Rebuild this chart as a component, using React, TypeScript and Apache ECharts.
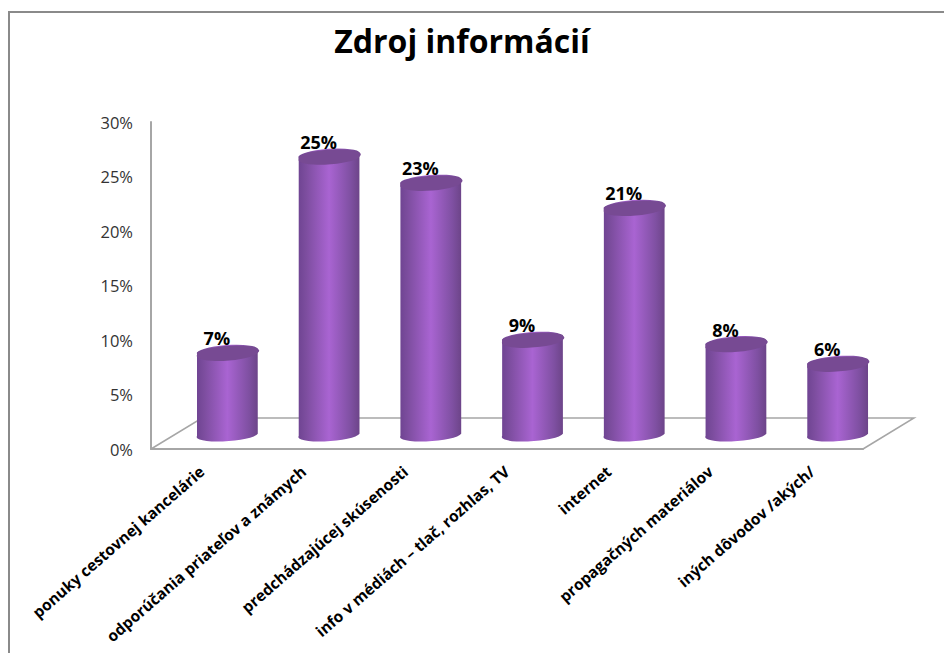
import React, { useEffect, useRef } from "react";
import * as echarts from "echarts";

const categories = [
  "ponuky cestovnej kancelárie",
  "odporúčania priateľov a známych",
  "predchádzajúcej skúsenosti",
  "info v médiách – tlač, rozhlas, TV",
  "internet",
  "propagačných materiálov",
  "iných dôvodov /akých/",
];
const values = [7.4, 25.4, 23.0, 8.6, 20.7, 8.2, 6.4];
const floorIndex = [0];
const titleText = "Zdroj informácií";

const FONT = "'Open Sans', 'Noto Sans', sans-serif";
const DEPTH_X = 51;
const DEPTH_Y = 31;
const RX = 30.5;
const RY = 6.3;
const TILT_DEG = -4;
const TILT = (TILT_DEG * Math.PI) / 180;
const HALF_W = Math.sqrt((RX * Math.cos(TILT)) ** 2 + (RY * Math.sin(TILT)) ** 2);
const HALF_H = Math.sqrt((RX * Math.sin(TILT)) ** 2 + (RY * Math.cos(TILT)) ** 2);

function ellipseEnds(cx: number, cy: number) {
  const dx = RX * Math.cos(TILT);
  const dy = RX * Math.sin(TILT);
  return { lx: cx - dx, ly: cy - dy, rx: cx + dx, ry: cy + dy };
}

function renderCylinder(params: any, api: any) {
  const idx = api.value(0);
  const val = api.value(1);
  const top = api.coord([idx, val]);
  const base = api.coord([idx, 0]);
  const cx = top[0] + DEPTH_X / 2;
  const ty = top[1] - DEPTH_Y / 2;
  const by = base[1] - DEPTH_Y / 2;
  const t = ellipseEnds(cx, ty);
  const b = ellipseEnds(cx, by);
  const arc = (x: number, y: number) => `A ${RX} ${RY} ${TILT_DEG} 0 0 ${x} ${y}`;
  const bodyPath =
    `M ${t.lx} ${t.ly} L ${b.lx} ${b.ly} ${arc(b.rx, b.ry)} L ${t.rx} ${t.ry} ${arc(t.lx, t.ly)} Z`;
  const topPath = `M ${t.lx} ${t.ly} ${arc(t.rx, t.ry)} ${arc(t.lx, t.ly)} Z`;
  return {
    type: "group",
    children: [
      {
        type: "path",
        shape: {
          pathData: bodyPath,
          layout: "cover",
          x: cx - HALF_W,
          y: ty - HALF_H,
          width: 2 * HALF_W,
          height: by - ty + 2 * HALF_H,
        },
        style: {
          fill: new echarts.graphic.LinearGradient(0, 0, 1, 0, [
            { offset: 0, color: "#6f4492" },
            { offset: 0.12, color: "#7c4d9e" },
            { offset: 0.5, color: "#a964d2" },
            { offset: 0.85, color: "#7f50a2" },
            { offset: 1, color: "#6c4488" },
          ]),
        },
      },
      {
        type: "path",
        shape: {
          pathData: topPath,
          layout: "cover",
          x: cx - HALF_W,
          y: ty - HALF_H,
          width: 2 * HALF_W,
          height: 2 * HALF_H,
        },
        style: { fill: "#774a93" },
      },
      {
        type: "text",
        style: {
          text: `${Math.round(val)}%`,
          x: cx - 10.5,
          y: ty - 14.5,
          align: "center",
          verticalAlign: "middle",
          fill: "#000000",
          font: `bold 18px ${FONT}`,
        },
      },
    ],
  };
}

function renderFloor(params: any, api: any) {
  const sys = params.coordSys;
  const left = sys.x;
  const right = sys.x + sys.width;
  const y = sys.y + sys.height;
  return {
    type: "polyline",
    shape: {
      points: [
        [left, y],
        [left + DEPTH_X, y - DEPTH_Y],
        [right + DEPTH_X, y - DEPTH_Y],
        [right, y],
      ],
    },
    style: { stroke: "#a6a6a6", lineWidth: 1.5, fill: "none" },
  };
}

export default function App() {
  const ref = useRef<HTMLDivElement>(null);
  useEffect(() => {
    const chart = echarts.init(ref.current!, null, { renderer: "svg" });
    chart.setOption({
      animation: false,
      backgroundColor: "#ffffff",
      title: {
        text: titleText,
        left: 457,
        top: 19,
        textAlign: "center",
        textStyle: { fontFamily: FONT, fontWeight: "bold", fontSize: 32, color: "#000000" },
      },
      graphic: [
        {
          type: "polyline",
          shape: { points: [[9, 653], [9, 12], [944, 12]] },
          style: { stroke: "#8a8a8a", lineWidth: 2, fill: "none" },
        },
      ],
      grid: { left: 151, top: 122, width: 712, height: 327 },
      xAxis: {
        type: "category",
        data: categories,
        axisLine: { show: true, lineStyle: { color: "#a6a6a6", width: 2 } },
        axisTick: { show: false },
        axisLabel: {
          rotate: 41,
          interval: 0,
          margin: 20,
          fontFamily: FONT,
          fontWeight: "bold",
          fontSize: 15.5,
          color: "#000000",
        },
      },
      yAxis: {
        type: "value",
        min: 0,
        max: 30,
        interval: 5,
        axisLine: { show: true, lineStyle: { color: "#a6a6a6", width: 2 } },
        axisTick: { show: false },
        splitLine: { show: false },
        axisLabel: {
          formatter: "{value}%",
          margin: 18,
          fontFamily: FONT,
          fontSize: 16.5,
          color: "#333333",
        },
      },
      series: [
        {
          type: "custom",
          z: 1,
          silent: true,
          renderItem: renderFloor,
          data: floorIndex,
        },
        {
          type: "custom",
          z: 2,
          silent: true,
          renderItem: renderCylinder,
          encode: { x: 0, y: 1 },
          data: values.map((v, i) => [i, v]),
        },
      ],
    });
    return () => chart.dispose();
  }, []);
  return (
    <div
      ref={ref}
      style={{ position: "absolute", left: 0, top: 0, width: 944, height: 653 }}
    />
  );
}
